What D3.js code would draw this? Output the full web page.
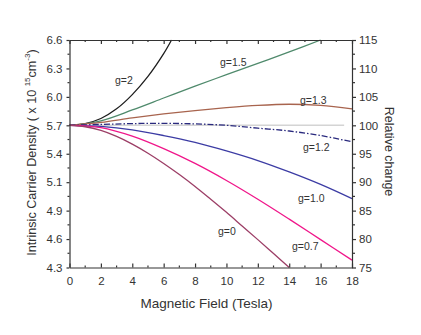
<!DOCTYPE html>
<html>
<head>
<meta charset="utf-8">
<script src="https://cdn.jsdelivr.net/npm/d3@7/dist/d3.min.js"></script>
<style>
  body { margin: 0; background: #fff; }
  text { font-family: "Liberation Sans", Arial, sans-serif; fill: #333; }
  .axis path, .axis line { stroke: #333; stroke-width: 1.2; }
  .axis text { font-size: 11.5px; fill: #333; }
</style>
</head>
<body>
<svg id="chart"></svg>
<script>
// magnetic field (Tesla) and relative change (%) per curve
var fieldG2  = [0, 1, 2, 3, 4, 5, 6, 6.5];
var relG2    = [100, 100.3, 101.2, 102.9, 105.4, 108.6, 112.6, 115];
var fieldG15 = [0, 2, 4, 6, 8, 10, 12, 14, 16];
var relG15   = [100, 100.8, 102.7, 104.8, 106.9, 108.9, 110.9, 112.9, 115];
var fieldAll = [0, 2, 4, 6, 8, 10, 12, 14, 16, 18];
var relG13   = [100, 100.5, 101.3, 102.0, 102.6, 103.1, 103.5, 103.7, 103.5, 102.9];
var relG12   = [100, 100.15, 100.3, 100.35, 100.25, 100.0, 99.5, 99.0, 98.2, 97.1];
var relG10   = [100, 99.8, 99.2, 98.2, 97.0, 95.5, 93.8, 91.8, 89.6, 87.1];
var relG07   = [100, 99.6, 98.1, 95.9, 93.3, 90.3, 87.0, 83.5, 79.9, 76.3];
var fieldG0  = [0, 1, 2, 3, 4, 5, 6, 7, 8, 9, 10, 11, 12, 13, 14];
var relG0    = [100, 99.75, 99.1, 98.05, 96.7, 95.1, 93.3, 91.35, 89.25, 87.0, 84.7, 82.3, 79.9, 77.45, 75];
var fieldRef = [0, 17.5];
var relRef   = [100, 100];

// axis ticks
var fieldTicks = [0, 2, 4, 6, 8, 10, 12, 14, 16, 18];
var relTicks = [75, 80, 85, 90, 95, 100, 105, 110, 115];
var densityLabels = ["4.3", "4.6", "4.9", "5.1", "5.4", "5.7", "6.0", "6.3", "6.6"];

var W = 421, H = 335;
var svg = d3.select("#chart").attr("width", W).attr("height", H);

var x = d3.scaleLinear().domain([0, 18]).range([69.5, 352]);
var y = d3.scaleLinear().domain([75, 115]).range([267.5, 40]);

function zip(xs, ys) {
  return xs.map(function(v, i) { return { x: v, y: ys[i] }; });
}

var series = [
  { name: "ref",  pts: zip(fieldRef, relRef), color: "#d4d4d4", dash: null, w: 1.5 },
  { name: "g=2",  pts: zip(fieldG2, relG2),   color: "#1e1e1e", dash: null, w: 1.3 },
  { name: "g=1.5", pts: zip(fieldG15, relG15), color: "#4f8a6c", dash: null, w: 1.3 },
  { name: "g=1.3", pts: zip(fieldAll, relG13), color: "#a8644e", dash: null, w: 1.3 },
  { name: "g=1.2", pts: zip(fieldAll, relG12), color: "#2a2a7e", dash: "6,2,1.5,2", w: 1.3 },
  { name: "g=1.0", pts: zip(fieldAll, relG10), color: "#3c3ca4", dash: null, w: 1.3 },
  { name: "g=0.7", pts: zip(fieldAll, relG07), color: "#f0168a", dash: null, w: 1.3 },
  { name: "g=0",  pts: zip(fieldG0, relG0),   color: "#9c3e66", dash: null, w: 1.3 }
];

var line = d3.line()
  .curve(d3.curveCatmullRom.alpha(0.5))
  .x(function(d) { return x(d.x); })
  .y(function(d) { return y(d.y); });

svg.append("g")
  .selectAll("path")
  .data(series)
  .enter()
  .append("path")
    .attr("d", function(d) { return line(d.pts); })
    .attr("fill", "none")
    .attr("stroke", function(d) { return d.color; })
    .attr("stroke-width", function(d) { return d.w; })
    .attr("stroke-dasharray", function(d) { return d.dash; });

// curve labels
var labels = [
  { t: "g=2",   x: 115, y: 84 },
  { t: "g=1.5", x: 220, y: 66 },
  { t: "g=1.3", x: 300, y: 104 },
  { t: "g=1.2", x: 303, y: 151 },
  { t: "g=1.0", x: 298, y: 202 },
  { t: "g=0.7", x: 292, y: 250 },
  { t: "g=0",   x: 218, y: 235 }
];
svg.append("g")
  .selectAll("text")
  .data(labels)
  .enter()
  .append("text")
    .attr("x", function(d) { return d.x; })
    .attr("y", function(d) { return d.y; })
    .style("font-size", "10.5px")
    .text(function(d) { return d.t; });

// minor tick helpers
var fieldMinor = d3.range(1, 18, 2);
var relMinor = d3.range(77.5, 115, 5);

function minor(g, vals, scale, orient, len) {
  g.selectAll("line.minor")
    .data(vals)
    .enter()
    .append("line")
      .attr("class", "minor")
      .attr("x1", function(d) { return orient == "h" ? scale(d) : 0; })
      .attr("x2", function(d) { return orient == "h" ? scale(d) : len; })
      .attr("y1", function(d) { return orient == "h" ? 0 : scale(d); })
      .attr("y2", function(d) { return orient == "h" ? len : scale(d); });
}

// bottom
var gb = svg.append("g").attr("class", "axis")
  .attr("transform", "translate(0," + y(75) + ")")
  .call(d3.axisBottom(x).tickValues(fieldTicks).tickSizeInner(-4).tickSizeOuter(0).tickPadding(9));
minor(gb, fieldMinor, x, "h", -2);

// top
var gt = svg.append("g").attr("class", "axis")
  .attr("transform", "translate(0," + y(115) + ")")
  .call(d3.axisTop(x).tickValues(fieldTicks).tickSizeInner(-4).tickSizeOuter(0).tickFormat(""));
minor(gt, fieldMinor, x, "h", 2);

// left
var gl = svg.append("g").attr("class", "axis")
  .attr("transform", "translate(" + x(0) + ",0)")
  .call(d3.axisLeft(y).tickValues(relTicks).tickSizeInner(3).tickSizeOuter(0).tickPadding(4)
    .tickFormat(function(d, i) { return densityLabels[i]; }));
minor(gl, relMinor, y, "v", -2);

// right
var gr = svg.append("g").attr("class", "axis")
  .attr("transform", "translate(" + x(18) + ",0)")
  .call(d3.axisRight(y).tickValues(relTicks).tickSizeInner(4).tickSizeOuter(0).tickPadding(3));
minor(gr, relMinor, y, "v", 3);

// axis titles
svg.append("text")
  .attr("x", 206.5)
  .attr("y", 307.5)
  .attr("text-anchor", "middle")
  .style("font-size", "13.5px")
  .text("Magnetic Field (Tesla)");

var yt = svg.append("text")
  .attr("transform", "translate(35.5,152.5) rotate(-90)")
  .attr("text-anchor", "middle")
  .style("font-size", "12.6px");
yt.append("tspan").text("Intrinsic Carrier Density ( x 10  ");
yt.append("tspan").attr("dy", -6).style("font-size", "8px").text("15");
yt.append("tspan").attr("dy", 6).text("cm");
yt.append("tspan").attr("dy", -6).style("font-size", "8px").text("-3");
yt.append("tspan").attr("dy", 6).text(")");

svg.append("text")
  .attr("transform", "translate(385,151.5) rotate(90)")
  .attr("text-anchor", "middle")
  .style("font-size", "12.5px")
  .text("Relative change");
</script>
</body>
</html>
